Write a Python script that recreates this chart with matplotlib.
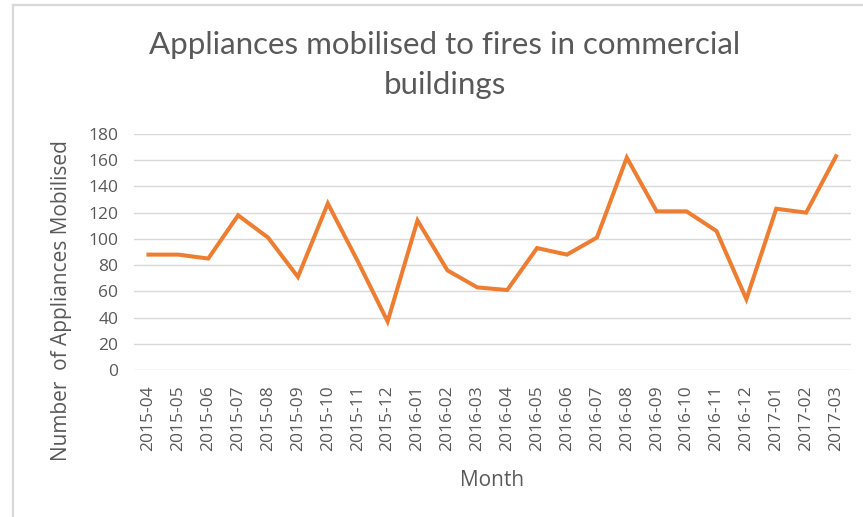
import matplotlib
matplotlib.use("Agg")
import matplotlib.pyplot as plt
from matplotlib.lines import Line2D

months = ["2015-04", "2015-05", "2015-06", "2015-07", "2015-08", "2015-09",
          "2015-10", "2015-11", "2015-12", "2016-01", "2016-02", "2016-03",
          "2016-04", "2016-05", "2016-06", "2016-07", "2016-08", "2016-09",
          "2016-10", "2016-11", "2016-12", "2017-01", "2017-02", "2017-03"]
appliances = [88, 88, 85, 118, 101, 71, 127, 83, 37, 114, 76, 63,
              61, 93, 88, 101, 162, 121, 121, 106, 54, 123, 120, 163]
y_ticks = [0, 20, 40, 60, 80, 100, 120, 140, 160, 180]

W, H = 863, 517
fig = plt.figure(figsize=(W / 100, H / 100), dpi=100)
fig.patch.set_facecolor("white")

# screenshot frame
fig.add_artist(Line2D([13 / W, 13 / W], [0, 1 - 5 / H], transform=fig.transFigure,
                      color="#d9d9d9", lw=1.6))
fig.add_artist(Line2D([13 / W, 1], [1 - 5 / H, 1 - 5 / H], transform=fig.transFigure,
                      color="#d9d9d9", lw=1.6))

left, right, top, bottom = 133.5, 851, 134, 370
ax = fig.add_axes([left / W, 1 - bottom / H, (right - left) / W, (bottom - top) / H])
x = list(range(len(months)))
ax.plot(x, appliances, color="#ED7D31", lw=2.9, solid_joinstyle="miter", zorder=3)
ax.set_xlim(-0.5, len(months) - 0.5)
ax.set_ylim(0, 180)
ax.set_yticks(y_ticks)
ax.set_xticks(x)
ax.set_xticklabels(months, rotation=90)
ax.grid(axis="y", color="#d9d9d9", lw=1.0)
ax.set_axisbelow(True)
for s in ax.spines.values():
    s.set_visible(False)
ax.tick_params(length=0, labelsize=12.5, labelcolor="#595959")
ax.tick_params(axis="y", pad=11)
ax.tick_params(axis="x", pad=11)
for lbl in ax.get_yticklabels() + ax.get_xticklabels():
    lbl.set_fontfamily("Open Sans")

fig.text(445 / W, 1 - 45 / H, "Appliances mobilised to fires in commercial",
         ha="center", va="center", fontsize=22.5, color="#595959", family="Lato")
fig.text(445 / W, 1 - 85 / H, "buildings",
         ha="center", va="center", fontsize=22.5, color="#595959", family="Lato")
fig.text(62 / W, 1 - 301 / H, "Number  of Appliances Mobilised", rotation=90,
         ha="center", va="center", fontsize=15, color="#595959", family="Open Sans")
fig.text(492 / W, 1 - 480 / H, "Month", ha="center", va="center",
         fontsize=15, color="#595959", family="Open Sans")

fig.savefig("out.png", dpi=100, facecolor="white")
